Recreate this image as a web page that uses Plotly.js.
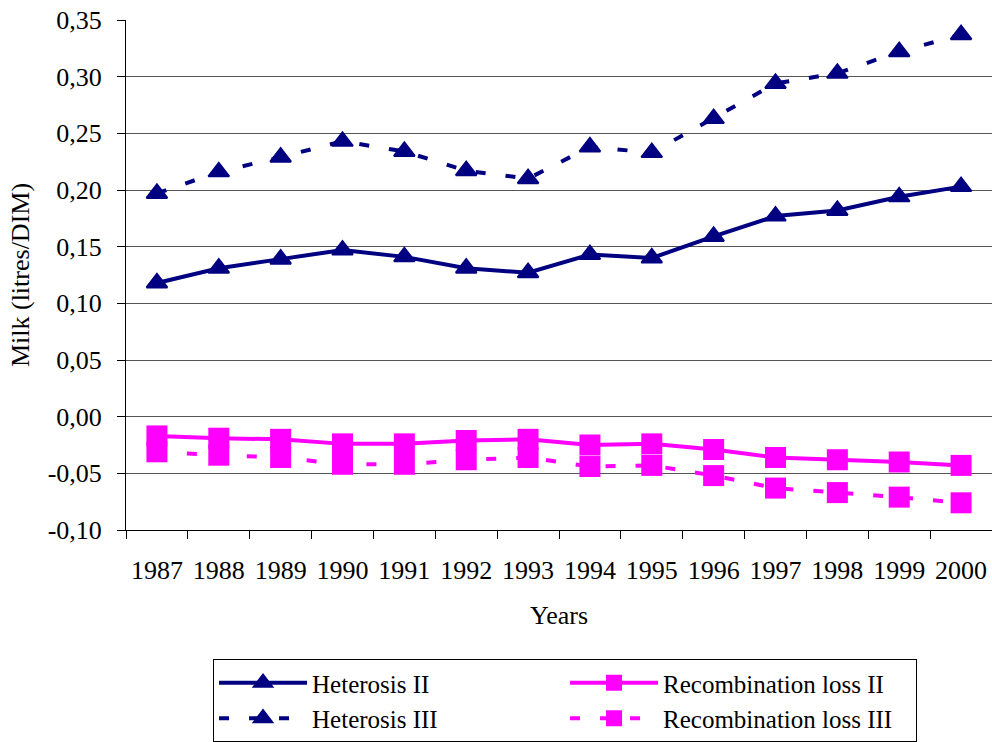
<!DOCTYPE html>
<html>
<head>
<meta charset="utf-8">
<script src="https://cdn.plot.ly/plotly-3.0.1.min.js"></script>
<style>html,body{margin:0;padding:0;background:#fff;}#chart{width:992px;height:742px;}</style>
</head>
<body>
<div id="chart"></div>
<script>
const years = ['1987','1988','1989','1990','1991','1992','1993','1994','1995','1996','1997','1998','1999','2000'];
const heterosisII = [0.118,0.131,0.139,0.147,0.141,0.131,0.127,0.143,0.140,0.159,0.177,0.182,0.194,0.203];
const heterosisIII = [0.197,0.216,0.229,0.243,0.234,0.217,0.210,0.238,0.233,0.263,0.294,0.303,0.322,0.337];
const recombLossII = [-0.017,-0.019,-0.020,-0.024,-0.024,-0.021,-0.020,-0.025,-0.024,-0.029,-0.036,-0.038,-0.040,-0.043];
const recombLossIII = [-0.031,-0.034,-0.036,-0.042,-0.042,-0.038,-0.036,-0.044,-0.043,-0.052,-0.063,-0.067,-0.071,-0.076];
const yTickVals = [-0.10,-0.05,0.00,0.05,0.10,0.15,0.20,0.25,0.30,0.35];
const yTickLabels = ['-0,10','-0,05','0,00','0,05','0,10','0,15','0,20','0,25','0,30','0,35'];

const navy = '#000080', magenta = '#FF00FF';
const font = "'Liberation Serif', 'Times New Roman', serif";

const triMarker = {symbol: 'triangle-up', size: 18, color: navy, line: {color: navy, width: 2}};
const sqMarker = {symbol: 'square', size: 21, color: magenta};

const traces = [
  {x: years, y: heterosisII, name: 'Heterosis II', type: 'scatter', mode: 'lines+markers',
   line: {color: navy, width: 4}, marker: triMarker},
  {x: years, y: recombLossII, name: 'Recombination loss II', type: 'scatter', mode: 'lines+markers',
   line: {color: magenta, width: 4}, marker: sqMarker},
  {x: years, y: heterosisIII, name: 'Heterosis III', type: 'scatter', mode: 'lines+markers',
   line: {color: navy, width: 4, dash: '10px,20px'}, marker: triMarker},
  {x: years, y: recombLossIII, name: 'Recombination loss III', type: 'scatter', mode: 'lines+markers',
   line: {color: magenta, width: 4, dash: '10px,20px'}, marker: sqMarker}
];

const layout = {
  width: 992, height: 742,
  margin: {l: 126, r: 0, t: 20, b: 211},
  paper_bgcolor: '#fff', plot_bgcolor: '#fff',
  font: {family: font, size: 26, color: '#000'},
  showlegend: true,
  xaxis: {
    type: 'category', range: [-0.5, 13.5],
    tickson: 'boundaries', ticks: 'outside', ticklen: 8, tickcolor: '#000',
    showline: true, linecolor: '#000', linewidth: 1, showgrid: false,
    tickfont: {family: font, size: 26}, ticklabelstandoff: 17,
    title: {text: 'Years', font: {family: font, size: 26}, standoff: 21},
    automargin: false, fixedrange: true
  },
  yaxis: {
    range: [-0.10, 0.35], tickvals: yTickVals, ticktext: yTickLabels,
    ticks: 'outside', ticklen: 8, tickcolor: '#000',
    showline: true, linecolor: '#000', linewidth: 1,
    showgrid: true, gridcolor: '#555', gridwidth: 1, zeroline: false,
    tickfont: {family: font, size: 26}, ticklabelstandoff: 10,
    title: {text: 'Milk (litres/DIM)', font: {family: font, size: 26}, standoff: 10},
    automargin: false, fixedrange: true
  },
  legend: {
    orientation: 'h', x: 0.1005, xanchor: 'left', y: -0.254, yanchor: 'top',
    entrywidth: 248, entrywidthmode: 'pixels', itemwidth: 88,
    bordercolor: '#000', borderwidth: 1, bgcolor: '#fff',
    font: {family: font, size: 25}, traceorder: 'normal'
  }
};

Plotly.newPlot('chart', traces, layout, {displayModeBar: false, staticPlot: true});
</script>
</body>
</html>
